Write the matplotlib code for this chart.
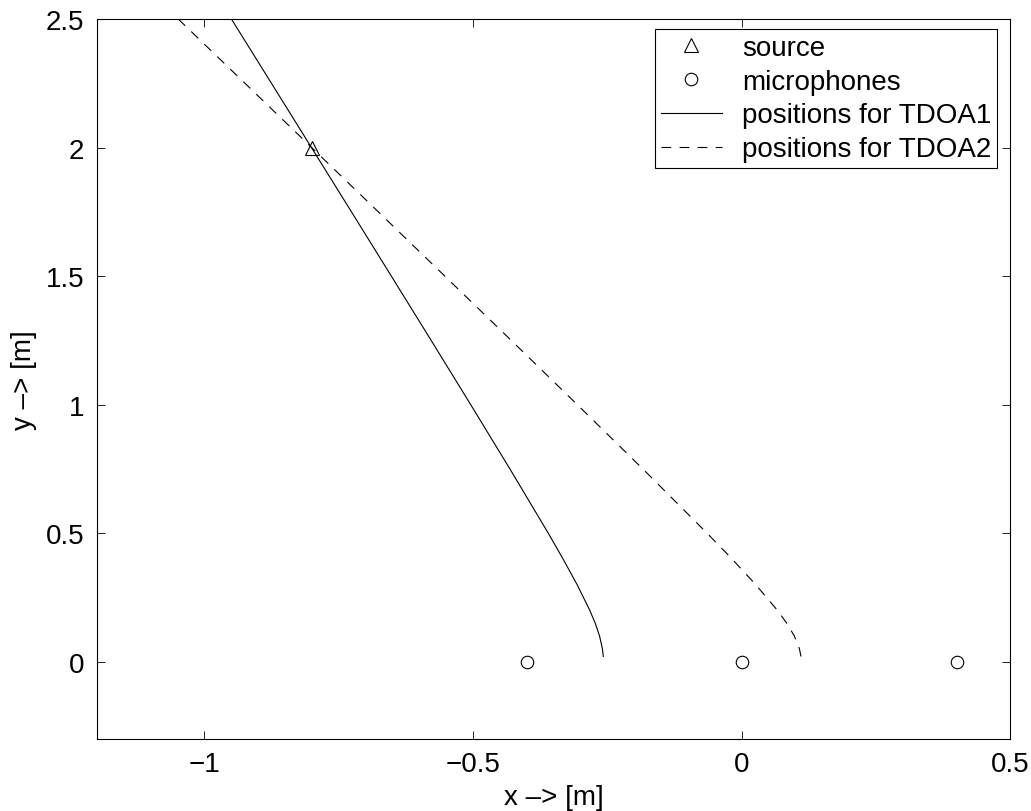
import matplotlib
matplotlib.use("Agg")
import matplotlib.pyplot as plt

plt.rcParams['font.family'] = ['Liberation Sans', 'DejaVu Sans']
plt.rcParams['lines.scale_dashes'] = False

# Data
source_x = [-0.8]
source_y = [2.0]
mic_x = [-0.4, 0.0, 0.4]
mic_y = [0.0, 0.0, 0.0]

tdoa1_y = [0.02, 0.05, 0.1, 0.15, 0.2, 0.3, 0.4, 0.5, 0.75, 1.0, 1.25, 1.5, 1.75, 2.0, 2.25, 2.5]
tdoa1_x = [-0.2576, -0.2592, -0.2646, -0.2727, -0.2828, -0.3064, -0.3326, -0.3600,
           -0.4314, -0.5043, -0.5779, -0.6519, -0.7261, -0.8005, -0.8749, -0.9494]

tdoa2_y = [0.02, 0.05, 0.1, 0.15, 0.2, 0.3, 0.4, 0.5, 0.75, 1.0, 1.25, 1.5, 1.75, 2.0, 2.25, 2.5]
tdoa2_x = [0.1103, 0.1074, 0.0979, 0.0837, 0.0663, 0.0260, -0.0182, -0.0645,
           -0.1840, -0.3059, -0.4288, -0.5523, -0.6760, -0.7999, -0.9240, -1.0481]

xticks = [-1, -0.5, 0, 0.5]
xtick_labels = ['\u22121', '\u22120.5', '0', '0.5']
yticks = [0, 0.5, 1, 1.5, 2, 2.5]
ytick_labels = ['0', '0.5', '1', '1.5', '2', '2.5']

FS = 20

fig = plt.figure(figsize=(10.31, 8.12), dpi=100)
ax = fig.add_axes([0.094, 0.089, 0.886, 0.886])

ax.plot(source_x, source_y, linestyle='none', marker='^', markersize=10,
        markerfacecolor='none', markeredgecolor='black', markeredgewidth=0.8, label='source')
ax.plot(mic_x, mic_y, linestyle='none', marker='o', markersize=9,
        markerfacecolor='none', markeredgecolor='black', markeredgewidth=0.8, label='microphones')
ax.plot(tdoa1_x, tdoa1_y, color='black', linewidth=0.8, label='positions for TDOA1')
ax.plot(tdoa2_x, tdoa2_y, color='black', linewidth=0.8, linestyle=(0, (7, 6)),
        label='positions for TDOA2')

ax.set_xlim(-1.2, 0.5)
ax.set_ylim(-0.3, 2.5)
ax.set_xticks(xticks)
ax.set_xticklabels(xtick_labels)
ax.set_yticks(yticks)
ax.set_yticklabels(ytick_labels)
ax.tick_params(direction='in', length=6, width=0.6, top=True, right=True,
               labelsize=FS, pad=9)
for s in ax.spines.values():
    s.set_linewidth(0.8)

ax.set_xlabel('x \u2013> [m]', fontsize=FS, labelpad=5)
ax.set_ylabel('y \u2013> [m]', fontsize=FS, labelpad=6)

leg = ax.legend(loc='upper right', fontsize=FS, frameon=True, fancybox=False,
                edgecolor='black', framealpha=1, borderaxespad=0,
                handlelength=2.2, handletextpad=0.75, labelspacing=0.28,
                borderpad=0.2, bbox_to_anchor=(0.9858, 0.986))
leg.get_frame().set_linewidth(0.8)

fig.savefig('out.png', dpi=100)
